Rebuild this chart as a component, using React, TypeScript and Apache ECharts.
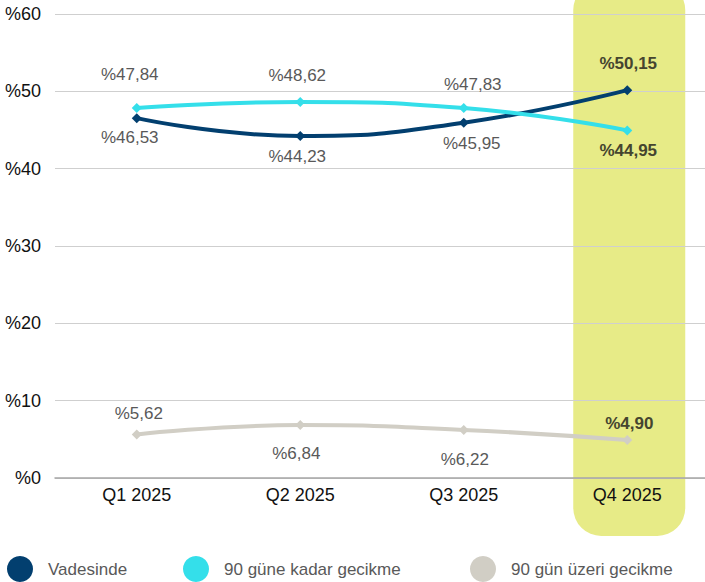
import React, { useEffect, useRef } from "react";
import * as echarts from "echarts";

const categories = ["Q1 2025", "Q2 2025", "Q3 2025", "Q4 2025"];
const seriesNames = ["Vadesinde", "90 güne kadar gecikme", "90 gün üzeri gecikme"];
const vadesinde = [46.53, 44.23, 45.95, 50.15];
const kadar90 = [47.84, 48.62, 47.83, 44.95];
const uzeri90 = [5.62, 6.84, 6.22, 4.9];
const yTicks = { min: 0, max: 60, interval: 10 };

// label placement (style): [dx, dy] offset of label centre from the point
const labelOffsets = [
  [[-7, 19], [-3, 21], [8, 21], [1, -27]],
  [[-7, -34], [-3, -27], [9, -24], [1, 20]],
  [[2, -21], [-4, 28], [1, 30], [2, -17]],
];
const colors = ["#023f6f", "#34dfea", "#d1cec5"];
const FONT = "'Liberation Sans', Arial, sans-serif";

function fmt(v: number) {
  return "%" + v.toFixed(2).replace(".", ",");
}

export default function App() {
  const ref = useRef<HTMLDivElement>(null);
  useEffect(() => {
    if (!ref.current) return;
    const chart = echarts.init(ref.current, null, { renderer: "svg" });
    const datasets = [vadesinde, kadar90, uzeri90];
    const series = datasets.map((arr, si) => ({
      name: seriesNames[si],
      type: "line",
      smooth: 0.5,
      symbol: "diamond",
      symbolSize: 10,
      z: 5,
      lineStyle: { width: 4, color: colors[si] },
      itemStyle: { color: colors[si] },
      data: arr.map((v, i) => {
        const last = i === categories.length - 1;
        return {
          value: v,
          label: {
            show: true,
            position: "inside",
            offset: labelOffsets[si][i],
            formatter: () => fmt(v),
            fontFamily: FONT,
            fontSize: 17,
            fontWeight: last ? "bold" : "normal",
            color: last ? "#45452f" : "#595959",
          },
        };
      }),
    }));
    const legendLefts = [7, 183, 470];
    const option: any = {
      animation: false,
      grid: { left: 55, width: 654, top: 14, bottom: 104, outerBoundsMode: "none", containLabel: false },
      xAxis: {
        type: "category",
        data: categories,
        boundaryGap: true,
        axisLine: { show: true, lineStyle: { color: "#a6a6a6", width: 1.5 } },
        axisTick: { show: false },
        axisLabel: { fontFamily: FONT, fontSize: 18, color: "#111111", margin: 8 },
      },
      yAxis: {
        type: "value",
        min: yTicks.min,
        max: yTicks.max,
        interval: yTicks.interval,
        axisLine: { show: false },
        axisTick: { show: false },
        axisLabel: {
          fontFamily: FONT,
          fontSize: 18,
          color: "#111111",
          margin: 14,
          formatter: (v: number) => "%" + v,
        },
        splitLine: { lineStyle: { color: "#cfcfcf", width: 1 } },
      },
      legend: seriesNames.map((n, i) => ({
        data: [n],
        left: legendLefts[i],
        top: 556,
        padding: 0,
        icon: "circle",
        itemWidth: 26,
        itemHeight: 26,
        textStyle: {
          fontFamily: FONT,
          fontSize: 17,
          color: "#595959",
          padding: [0, 0, 0, 10],
        },
      })),
      series,
    };
    chart.setOption(option);
    const cx = chart.convertToPixel({ xAxisIndex: 0 }, categories[3]) as number;
    chart.setOption({
      graphic: [
        {
          type: "rect",
          z: -100,
          silent: true,
          shape: { x: cx - 54, y: -18, width: 112, height: 554, r: 28 },
          style: { fill: "#e7eb87" },
        },
      ],
    });
    return () => chart.dispose();
  }, []);
  return (
    <div
      ref={ref}
      style={{ position: "absolute", left: 0, top: 0, width: 705, height: 582 }}
    />
  );
}
